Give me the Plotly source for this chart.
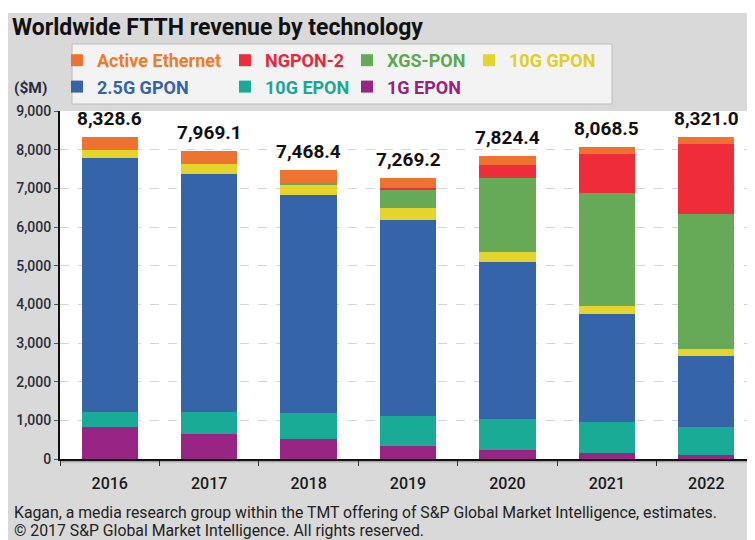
import plotly.graph_objects as go

years = ["2016", "2017", "2018", "2019", "2020", "2021", "2022"]
one_g_epon = [826, 654, 516, 327, 224, 155, 103]
ten_g_epon = [387, 559, 662, 774, 817, 800, 714]
gpon_25g = [6572, 6168, 5644, 5093, 4043, 2787, 1850]
ten_g_gpon = [198, 258, 275, 301, 258, 224, 172]
xgs_pon = [0, 0, 50, 473, 1935, 2916, 3509]
ngpon2 = [0, 0, 0, 50, 336, 998, 1807]
active_eth = [346, 330, 320, 250, 211, 188, 166]
totals = [8328.6, 7969.1, 7468.4, 7269.2, 7824.4, 8068.5, 8321.0]
total_labels = ["8,328.6", "7,969.1", "7,468.4", "7,269.2", "7,824.4", "8,068.5", "8,321.0"]

FONT = "Roboto, Liberation Sans, sans-serif"

# (name, values, bar colour, text colour, legend id, rank)
series = [
    ("1G EPON", one_g_epon, "#982584", "#962382", "legend3", 2),
    ("10G EPON", ten_g_epon, "#1aab96", "#18a993", "legend2", 2),
    ("2.5G GPON", gpon_25g, "#3565a8", "#3464a8", "legend", 2),
    ("10G GPON", ten_g_gpon, "#e5d42b", "#e0cf28", "legend4", 1),
    ("XGS-PON", xgs_pon, "#66aa58", "#5fa84f", "legend3", 1),
    ("NGPON-2", ngpon2, "#ee2c3a", "#e8283a", "legend2", 1),
    ("Active Ethernet", active_eth, "#ee7330", "#f07c2a", "legend", 1),
]

fig = go.Figure()
for name, vals, col, tcol, leg, rank in series:
    fig.add_trace(go.Bar(
        x=years, y=vals, name=f'<span style="color:{tcol}">{name}</span>',
        marker=dict(color=col, line=dict(width=0)), width=0.565,
        legend=leg, legendrank=rank, legendgroup=name, hoverinfo="skip",
    ))

for i, (tot, lab) in enumerate(zip(totals, total_labels)):
    fig.add_annotation(x=i, y=tot, xref="x", yref="y", text=lab, showarrow=False,
                       yanchor="bottom", yshift=5,
                       font=dict(family=FONT, size=19, color="#111111", weight="bold"))

# page offset (body margin) of the figure
OFF = 8
W, H = 755, 540
PL, PT, PH = 52, 103, 348
PW = W - PL
SLOT = 99.43  # px per category


def px_x(x):
    return (x - OFF - PL) / PW


def px_y(y):
    return (PT + PH - (y - OFF)) / PH


leg_common = dict(orientation="v", bgcolor="rgba(0,0,0,0)", borderwidth=0,
                  traceorder="grouped", tracegroupgap=0, yanchor="top", xanchor="left",
                  font=dict(family=FONT, size=18, color="#333", weight="bold"),
                  itemclick=False, itemdoubleclick=False)
cols = [57, 225, 347, 469]
LEG_TOP = 42
fig.update_layout(
    legend=dict(x=px_x(cols[0]), y=px_y(LEG_TOP), **leg_common),
    legend2=dict(x=px_x(cols[1]), y=px_y(LEG_TOP), **leg_common),
    legend3=dict(x=px_x(cols[2]), y=px_y(LEG_TOP), **leg_common),
    legend4=dict(x=px_x(cols[3]), y=px_y(LEG_TOP), **leg_common),
)

fig.update_layout(
    width=W, height=H,
    margin=dict(l=PL, r=0, t=PT, b=H - PT - PH, autoexpand=False),
    paper_bgcolor="#d9d9d9", plot_bgcolor="#ffffff",
    barmode="stack", showlegend=True,
    title=dict(text="Worldwide FTTH revenue by technology",
               x=(12 - OFF) / W, xanchor="left", xref="container",
               y=1 - (27 - OFF) / H, yanchor="middle", yref="container",
               font=dict(family=FONT, size=23, color="#111111", weight="bold")),
    font=dict(family=FONT),
    xaxis=dict(type="category", range=[-0.5, -0.5 + PW / SLOT], showline=True,
               linecolor="#111", linewidth=2, ticks="outside", tickson="boundaries",
               ticklen=5, tickcolor="#333", showgrid=False, ticklabelstandoff=9,
               tickfont=dict(family=FONT, size=16, color="#1a1a1a", weight=500)),
    yaxis=dict(range=[0, 9000], tickvals=list(range(0, 9001, 1000)), tickformat=",",
               showline=True, linecolor="#111", linewidth=2, ticks="outside",
               ticklen=4, tickcolor="#555", showgrid=True, gridcolor="#d4d4d4",
               griddash="dash", gridwidth=1, zeroline=False,
               tickfont=dict(family=FONT, size=14, color="#2b2b3b", weight=500)),
)

# white strip at the very top, as in the reference
fig.add_shape(type="rect", xref="paper", yref="paper", x0=-0.2, x1=1.2,
              y0=px_y(13), y1=px_y(0), fillcolor="#ffffff", line=dict(width=0),
              layer="below")
# legend box
fig.add_shape(type="rect", xref="paper", yref="paper", x0=px_x(72), x1=px_x(612),
              y0=px_y(104), y1=px_y(44), fillcolor="#f3f3f3",
              line=dict(color="#bcbcbc", width=1), layer="below")
# soft shadow under the x axis line
fig.add_shape(type="line", xref="paper", yref="paper", x0=px_x(61), x1=1,
              y0=px_y(461.5), y1=px_y(461.5), line=dict(color="#a8a8a8", width=2),
              layer="below")

fig.add_annotation(xref="paper", yref="paper", x=px_x(12), y=px_y(88), text="<b>($M)</b>",
                   showarrow=False, xanchor="left", yanchor="middle",
                   font=dict(family=FONT, size=15.5, color="#2b2b3b"))
fig.add_annotation(xref="paper", yref="paper", x=px_x(12), y=px_y(512),
                   text="Kagan, a media research group within the TMT offering of S&P Global Market Intelligence, estimates.",
                   showarrow=False, xanchor="left", yanchor="middle",
                   font=dict(family=FONT, size=15.8, color="#222"))
fig.add_annotation(xref="paper", yref="paper", x=px_x(12), y=px_y(530),
                   text="© 2017 S&P Global Market Intelligence. All rights reserved.",
                   showarrow=False, xanchor="left", yanchor="middle",
                   font=dict(family=FONT, size=15.8, color="#222"))

fig.write_html("out.html")
